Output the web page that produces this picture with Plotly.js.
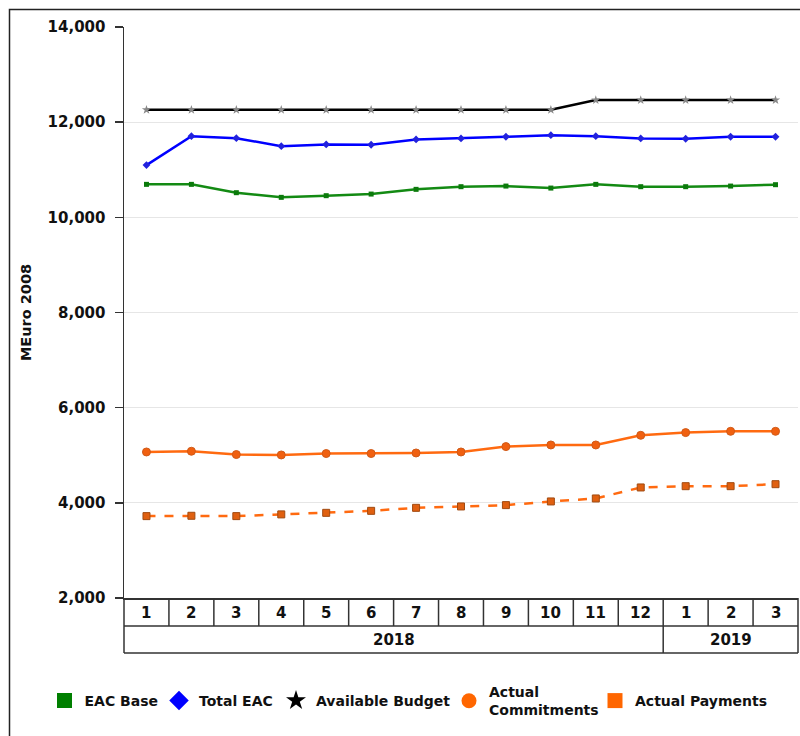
<!DOCTYPE html>
<html>
<head>
<meta charset="utf-8">
<script src="https://cdn.plot.ly/plotly-3.0.1.min.js"></script>
<style>
html,body{margin:0;padding:0;background:#fff;overflow:hidden;}
#chart{width:800px;height:736px;}
</style>
</head>
<body>
<div id="chart"></div>
<script>
// ---- data ----
const months = ['1','2','3','4','5','6','7','8','9','10','11','12','1','2','3'];
const years = ['2018','2019'];
const yearSpans = [12, 3];
const eacBase = [10693,10693,10518,10420,10455,10489,10588,10644,10657,10615,10693,10644,10644,10657,10686];
const totalEac = [11098,11706,11664,11496,11532,11525,11637,11658,11693,11727,11706,11658,11651,11693,11693];
const availableBudget = [12260,12260,12260,12260,12260,12260,12260,12260,12260,12260,12465,12465,12465,12465,12465];
const actualCommitments = [5069,5084,5015,5006,5036,5036,5048,5069,5182,5216,5216,5419,5476,5503,5503];
const actualPayments = [3721,3728,3721,3757,3790,3832,3895,3924,3952,4029,4092,4323,4350,4350,4392];
const yTicks = [2000,4000,6000,8000,10000,12000,14000];
const seriesNames = ['EAC Base','Total EAC','Available Budget','Actual<br>Commitments','Actual Payments'];

const xIdx = months.map((m, i) => i);
const n = months.length;

const FONT = 'DejaVu Sans, Verdana, sans-serif';

const traces = [
  {x: xIdx, y: eacBase, mode: 'lines+markers', name: 'EAC Base', showlegend: false,
   line: {color: '#138a13', width: 2.5}, marker: {symbol: 'square', size: 5, color: '#0b7a0b'}},
  {x: xIdx, y: totalEac, mode: 'lines+markers', name: 'Total EAC', showlegend: false,
   line: {color: '#0000ff', width: 2.5}, marker: {symbol: 'diamond', size: 6, color: '#2222dd'}},
  {x: xIdx, y: availableBudget, mode: 'lines+markers', name: 'Available Budget', showlegend: false,
   line: {color: '#000000', width: 2.5}, marker: {symbol: 'star', size: 7, color: '#888888'}},
  {x: xIdx, y: actualCommitments, mode: 'lines+markers', name: 'Actual Commitments', showlegend: false,
   line: {color: '#ff6a10', width: 2.5}, marker: {symbol: 'circle', size: 8, color: '#f06010', line: {color: '#d05a18', width: 1}}},
  {x: xIdx, y: actualPayments, mode: 'lines+markers', name: 'Actual Payments', showlegend: false,
   line: {color: '#ff6a10', width: 2.5, dash: 'dash'}, marker: {symbol: 'square', size: 7, color: '#e06010', line: {color: '#a04a10', width: 1}}}
];

// legend entries (one legend box per entry so each can be placed)
const legendSymbols = ['square','diamond','star','circle','square'];
const legendColors = ['#007f00','#0000ff','#000000','#ff6600','#ff6600'];
const legendCenters = [64.5, 179, 296, 469, 615]; // px, symbol centre
const legendIds = ['legend','legend2','legend3','legend4','legend5'];
seriesNames.forEach((nm, i) => {
  traces.push({x: [null], y: [null], mode: 'markers', name: nm, legend: legendIds[i],
    marker: {symbol: legendSymbols[i], size: 15, color: legendColors[i]}});
});

const plotW = 674, plotH = 571;
const rowMid = -28 / plotH;
const rowBot = -55 / plotH;
const lineStyle = {color: '#333333', width: 1.5};
const shapes = [];
for (let k = 0; k <= n; k++) {
  shapes.push({type: 'line', xref: 'paper', yref: 'paper', x0: k / n, x1: k / n, y0: 0, y1: rowMid, line: lineStyle});
}
let acc = 0;
shapes.push({type: 'line', xref: 'paper', yref: 'paper', x0: 0, x1: 0, y0: rowMid, y1: rowBot, line: lineStyle});
yearSpans.forEach(s => {
  acc += s;
  shapes.push({type: 'line', xref: 'paper', yref: 'paper', x0: acc / n, x1: acc / n, y0: rowMid, y1: rowBot, line: lineStyle});
});
shapes.push({type: 'line', xref: 'paper', yref: 'paper', x0: 0, x1: 1, y0: rowMid, y1: rowMid, line: lineStyle});
shapes.push({type: 'line', xref: 'paper', yref: 'paper', x0: 0, x1: 1, y0: rowBot, y1: rowBot, line: lineStyle});
shapes.push({type: 'rect', xref: 'paper', yref: 'paper', x0: (9.5 - 124) / plotW, x1: 1.3, y0: -0.5, y1: (598 - 9.5) / plotH,
  line: {color: '#222222', width: 1.5}, fillcolor: 'rgba(0,0,0,0)'});

const labelFont = {family: FONT, size: 15, weight: 'bold', color: '#111'};
const annotations = [];
months.forEach((m, i) => {
  annotations.push({x: i, y: -15 / plotH, xref: 'x', yref: 'paper', text: m, showarrow: false,
    font: labelFont, xanchor: 'center', yanchor: 'middle'});
});
acc = 0;
years.forEach((yv, j) => {
  const mid = acc + (yearSpans[j] - 1) / 2;
  acc += yearSpans[j];
  annotations.push({x: mid, y: -42 / plotH, xref: 'x', yref: 'paper', text: yv, showarrow: false,
    font: labelFont, xanchor: 'center', yanchor: 'middle'});
});

const layout = {
  width: 800, height: 736,
  margin: {l: 124, r: 2, t: 27, b: 138},
  paper_bgcolor: '#ffffff', plot_bgcolor: '#ffffff',
  showlegend: true,
  xaxis: {range: [-0.5, n - 0.5], showticklabels: false, ticks: '', showgrid: false, zeroline: false,
    showline: true, linecolor: '#333333', linewidth: 1.5, fixedrange: true},
  yaxis: {range: [2000, 14000], tickvals: yTicks, tickformat: ',d', ticks: 'outside', ticklen: 8, tickcolor: '#333333',
    tickwidth: 1.5, ticklabelstandoff: 6, showline: true, linecolor: '#333333', linewidth: 1.5, showgrid: true,
    gridcolor: '#e6e6e6', gridwidth: 1.2, zeroline: false, tickfont: labelFont,
    title: {text: 'MEuro 2008', font: {family: FONT, size: 14.5, weight: 'bold', color: '#111'}, standoff: 12}, fixedrange: true},
  shapes: shapes,
  annotations: annotations
};
legendIds.forEach((id, i) => {
  layout[id] = {orientation: 'h', x: (legendCenters[i] - 20 - 124) / plotW, xanchor: 'left',
    y: (598 - 701) / plotH, yanchor: 'middle',
    font: {family: FONT, size: 14, weight: 'bold', color: '#111'}, bgcolor: 'rgba(0,0,0,0)', borderwidth: 0};
});

Plotly.newPlot('chart', traces, layout, {displayModeBar: false, staticPlot: true});
</script>
</body>
</html>
